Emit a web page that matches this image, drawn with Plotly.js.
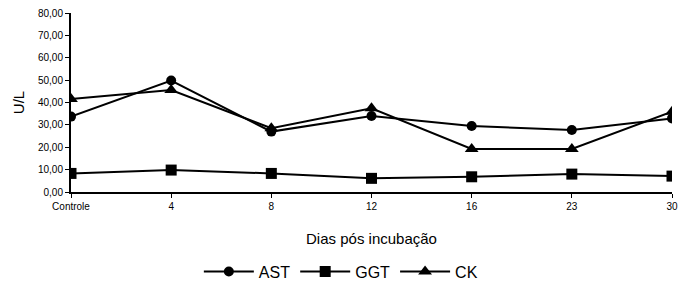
<!DOCTYPE html>
<html><head><meta charset="utf-8">
<script src="https://cdn.plot.ly/plotly-3.0.1.min.js"></script>
<style>html,body{margin:0;padding:0;background:#fff}#c{width:689px;height:286px}</style>
</head><body><div id="c"></div>
<script>
const categories = ["Controle","4","8","12","16","23","30"];
const ast = [33.7, 49.8, 27.0, 34.0, 29.5, 27.7, 32.9];
const ggt = [8.3, 9.8, 8.3, 6.1, 6.8, 8.0, 7.1];
const ck  = [41.6, 45.6, 28.5, 37.4, 19.2, 19.2, 35.9];
const yTicks = [0,10,20,30,40,50,60,70,80];

const xIdx = categories.map((c,i)=>i);
function tr(name, y, sym, size){
  return {x: xIdx, y: y, name: name, type:'scatter', mode:'lines+markers',
    line:{color:'#000', width:2}, marker:{symbol:sym, size:size, color:'#000'}};
}
const data = [tr('AST', ast, 'circle', 10), tr('GGT', ggt, 'square', 11), tr('CK', ck, 'triangle-up', 12)];
const layout = {
  width:689, height:286, separators:',.',
  margin:{l:71, r:17, t:13, b:94, autoexpand:false},
  paper_bgcolor:'#fff', plot_bgcolor:'#fff',
  font:{family:'Liberation Sans, Arial, sans-serif', color:'#000', size:10},
  showlegend:true,
  legend:{orientation:'h', x:0.449, xanchor:'center', y:-0.35, yanchor:'top', font:{size:16}, itemwidth:50, tracegroupgap:0},
  xaxis:{range:[0,6], tickvals:xIdx, ticktext:categories, showgrid:false, zeroline:false,
    showline:true, linecolor:'#000', linewidth:2, ticks:'outside', ticklen:4, tickwidth:1, tickcolor:'#000',
    tickfont:{size:10}, title:{text:'Dias pós incubação', font:{size:15}, standoff:22}},
  yaxis:{range:[0,80], tickvals:yTicks, tickformat:'.2f', showgrid:false, zeroline:false,
    showline:true, linecolor:'#000', linewidth:2, ticks:'outside', ticklen:4, tickwidth:1, tickcolor:'#000',
    tickfont:{size:10}, title:{text:'U/L', font:{size:15}, standoff:10}}
};
Plotly.newPlot('c', data, layout, {displayModeBar:false, staticPlot:true});
</script></body></html>
